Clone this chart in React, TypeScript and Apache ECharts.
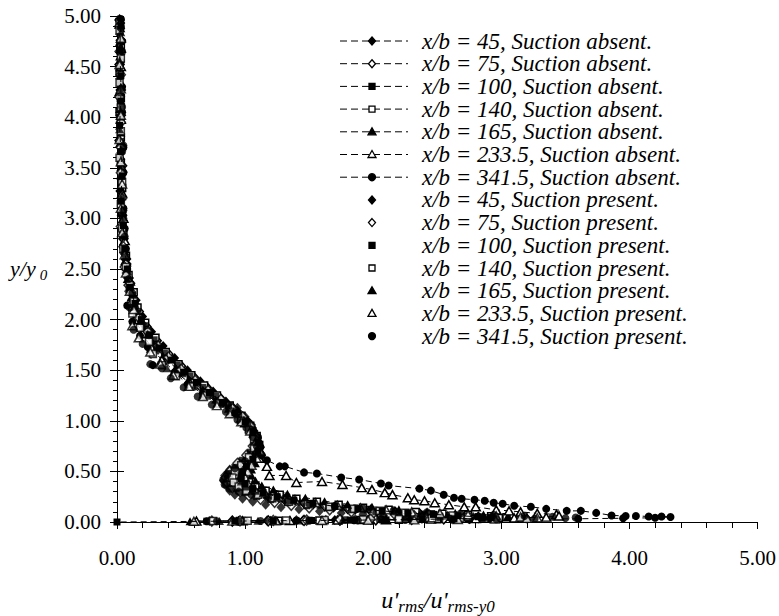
import { useEffect, useRef } from 'react';
import * as echarts from 'echarts';

type Pt = [number, number];

const LEGEND_LABELS = [
  'x/b = 45, Suction absent.',
  'x/b = 75, Suction absent.',
  'x/b = 100, Suction absent.',
  'x/b = 140, Suction absent.',
  'x/b = 165, Suction absent.',
  'x/b = 233.5, Suction absent.',
  'x/b = 341.5, Suction absent.',
  'x/b = 45, Suction present.',
  'x/b = 75, Suction present.',
  'x/b = 100, Suction present.',
  'x/b = 140, Suction present.',
  'x/b = 165, Suction present.',
  'x/b = 233.5, Suction present.',
  'x/b = 341.5, Suction present.',
];

const SYMBOLS = ['diamond', 'diamond', 'rect', 'rect', 'triangle', 'triangle', 'circle'];
const FILLED = [true, false, true, false, true, false, true];

const s45Absent: Pt[] = [
  [0.03, 4.93], [0.02, 4.71], [0.03, 4.47], [0.02, 4.22], [0.03, 3.98], [0.04, 3.72], [0.03, 3.47], [0.04, 3.22], [0.05, 2.98], [0.06, 2.75], [0.08, 2.55], [0.11, 2.36], [0.15, 2.19],
  [0.2, 2.03], [0.27, 1.88], [0.36, 1.74], [0.45, 1.62], [0.55, 1.5], [0.65, 1.39], [0.75, 1.29], [0.85, 1.19], [0.94, 1.1], [1.02, 1.0], [1.07, 0.9], [1.1, 0.8],
  [1.08, 0.71], [1.02, 0.63], [0.96, 0.55], [0.92, 0.48], [0.91, 0.42], [0.95, 0.36], [1.02, 0.31], [1.12, 0.27], [1.24, 0.23], [1.38, 0.2], [1.53, 0.17], [1.69, 0.14], [1.86, 0.12], [2.03, 0.1], [2.2, 0.085], [2.38, 0.07], [2.54, 0.058], [2.65, 0.048],
  [2.6, 0.04], [2.42, 0.034], [2.2, 0.029], [1.96, 0.024], [1.7, 0.02], [1.45, 0.016], [1.2, 0.013], [0.95, 0.01],
];

const s75Absent: Pt[] = [
  [0.02, 4.96], [0.03, 4.76], [0.02, 4.52], [0.03, 4.27], [0.03, 4.02], [0.02, 3.77], [0.04, 3.52], [0.03, 3.27], [0.04, 3.03], [0.05, 2.8], [0.07, 2.6], [0.09, 2.41], [0.12, 2.25],
  [0.17, 2.08], [0.23, 1.93], [0.31, 1.79], [0.4, 1.66], [0.5, 1.54], [0.6, 1.43], [0.7, 1.33], [0.8, 1.23], [0.9, 1.13], [0.98, 1.03], [1.05, 0.93], [1.09, 0.83],
  [1.09, 0.74], [1.05, 0.66], [0.99, 0.58], [0.95, 0.51], [0.93, 0.45], [0.95, 0.39], [1.0, 0.34], [1.08, 0.3], [1.18, 0.26], [1.31, 0.22], [1.46, 0.19], [1.62, 0.16], [1.8, 0.135], [1.98, 0.115], [2.17, 0.095], [2.36, 0.08], [2.55, 0.066], [2.72, 0.055], [2.82, 0.046],
  [2.75, 0.038], [2.55, 0.032], [2.3, 0.027], [2.02, 0.022], [1.74, 0.018], [1.46, 0.015], [1.18, 0.012], [0.9, 0.009],
];

const s100Absent: Pt[] = [
  [0.03, 4.9], [0.02, 4.66], [0.03, 4.41], [0.03, 4.16], [0.02, 3.92], [0.03, 3.66], [0.04, 3.42], [0.03, 3.17], [0.05, 2.93], [0.06, 2.7], [0.08, 2.5], [0.1, 2.32], [0.14, 2.16],
  [0.19, 2.0], [0.25, 1.85], [0.33, 1.72], [0.42, 1.6], [0.52, 1.48], [0.62, 1.38], [0.72, 1.28], [0.82, 1.18], [0.92, 1.08], [1.0, 0.99], [1.06, 0.89], [1.1, 0.79],
  [1.1, 0.7], [1.06, 0.62], [1.01, 0.55], [0.98, 0.49], [0.97, 0.43], [1.0, 0.38], [1.06, 0.33], [1.14, 0.29], [1.25, 0.25], [1.38, 0.215], [1.53, 0.185], [1.7, 0.155], [1.88, 0.13], [2.07, 0.11], [2.27, 0.09], [2.47, 0.075], [2.66, 0.062], [2.82, 0.052], [2.92, 0.044],
  [2.85, 0.037], [2.63, 0.031], [2.38, 0.026], [2.1, 0.021], [1.82, 0.018], [1.52, 0.015], [1.22, 0.012], [0.92, 0.009], [0, 0],
];

const s140Absent: Pt[] = [
  [0.02, 4.94], [0.03, 4.69], [0.02, 4.44], [0.03, 4.19], [0.02, 4.05], [0.03, 3.8], [0.03, 3.55], [0.04, 3.3], [0.04, 3.06], [0.05, 2.84], [0.07, 2.63], [0.09, 2.44], [0.13, 2.27], [0.16, 2.12],
  [0.22, 1.97], [0.3, 1.82], [0.38, 1.68], [0.48, 1.56], [0.58, 1.45], [0.68, 1.35], [0.78, 1.25], [0.88, 1.15], [0.97, 1.05], [1.04, 0.95], [1.09, 0.85],
  [1.11, 0.76], [1.09, 0.68], [1.05, 0.6], [1.02, 0.53], [1.01, 0.47], [1.03, 0.41], [1.08, 0.36], [1.16, 0.31], [1.27, 0.27], [1.4, 0.23], [1.56, 0.2], [1.73, 0.17], [1.92, 0.14], [2.12, 0.12], [2.33, 0.1], [2.54, 0.082], [2.74, 0.068], [2.92, 0.056], [3.04, 0.047],
  [2.98, 0.039], [2.76, 0.033], [2.5, 0.027], [2.2, 0.023], [1.9, 0.019], [1.58, 0.015], [1.26, 0.012], [0.96, 0.009],
];

const s165Absent: Pt[] = [
  [0.03, 4.88], [0.02, 4.6], [0.03, 4.35], [0.02, 4.08], [0.03, 3.85], [0.03, 3.62], [0.03, 3.3], [0.04, 3.12], [0.04, 2.95], [0.05, 2.77], [0.06, 2.58], [0.08, 2.4], [0.11, 2.22],
  [0.15, 2.06], [0.21, 1.91], [0.28, 1.77], [0.36, 1.64], [0.46, 1.52], [0.56, 1.41], [0.67, 1.31], [0.77, 1.21], [0.87, 1.12], [0.96, 1.02], [1.03, 0.92], [1.08, 0.82],
  [1.11, 0.73], [1.11, 0.65], [1.08, 0.58], [1.05, 0.52], [1.05, 0.46], [1.08, 0.41], [1.13, 0.36], [1.22, 0.32], [1.33, 0.28], [1.47, 0.24], [1.62, 0.205], [1.8, 0.175], [1.99, 0.15], [2.2, 0.125], [2.42, 0.105], [2.64, 0.088], [2.86, 0.073], [3.05, 0.06], [3.2, 0.05],
  [3.15, 0.041], [2.92, 0.034], [2.64, 0.028], [2.32, 0.024], [1.98, 0.02], [1.62, 0.017], [1.25, 0.014], [0.9, 0.011], [0.57, 0.008],
];

const s233Absent: Pt[] = [
  [0.02, 4.92], [0.03, 4.68], [0.03, 4.5], [0.02, 4.25], [0.03, 3.98], [0.03, 3.75], [0.04, 3.5], [0.04, 3.25], [0.05, 3.0], [0.06, 2.78], [0.07, 2.57], [0.1, 2.38], [0.13, 2.2],
  [0.14, 2.0], [0.2, 1.86], [0.27, 1.72], [0.35, 1.6], [0.45, 1.49], [0.57, 1.37], [0.68, 1.27], [0.79, 1.18], [0.9, 1.08], [1.0, 0.98], [1.07, 0.88], [1.11, 0.78], [1.12, 0.7],
  [1.11, 0.63], [1.17, 0.55], [1.19, 0.46], [1.32, 0.46], [1.4, 0.39], [1.6, 0.4], [1.76, 0.37], [1.91, 0.34], [1.99, 0.32], [2.09, 0.29], [2.15, 0.27], [2.27, 0.24], [2.32, 0.22], [2.4, 0.21], [2.48, 0.19], [2.59, 0.17], [2.71, 0.15], [2.8, 0.15], [2.96, 0.12], [3.06, 0.11], [3.15, 0.1], [3.28, 0.085], [3.43, 0.075], [3.45, 0.06],
  [3.35, 0.048], [3.1, 0.04], [2.8, 0.033], [2.45, 0.028], [2.1, 0.023], [1.72, 0.019], [1.35, 0.015], [0.98, 0.012], [0.62, 0.009],
];

const s341Absent: Pt[] = [
  [0.03, 4.97], [0.04, 4.75], [0.03, 4.55], [0.04, 4.3], [0.04, 4.05], [0.05, 3.7], [0.05, 3.45], [0.05, 3.1], [0.06, 2.9], [0.07, 2.7], [0.08, 2.5], [0.1, 2.3], [0.08, 2.14],
  [0.12, 1.98], [0.18, 1.84], [0.24, 1.73], [0.28, 1.55], [0.45, 1.48], [0.55, 1.36], [0.67, 1.27], [0.78, 1.19], [0.88, 1.12], [0.97, 1.04], [1.05, 0.94], [1.1, 0.84], [1.12, 0.74],
  [1.13, 0.66], [1.17, 0.61], [1.27, 0.55], [1.31, 0.55], [1.46, 0.49], [1.56, 0.48], [1.75, 0.44], [1.89, 0.42], [2.06, 0.38], [2.12, 0.36], [2.36, 0.33], [2.45, 0.31], [2.55, 0.27], [2.63, 0.24], [2.69, 0.23], [2.79, 0.22], [2.87, 0.21], [2.94, 0.19], [3.01, 0.18], [3.1, 0.16], [3.23, 0.15], [3.35, 0.13], [3.51, 0.11], [3.62, 0.11], [3.74, 0.09], [3.86, 0.065], [3.97, 0.06], [4.05, 0.06], [4.15, 0.055], [4.25, 0.055], [4.32, 0.05],
  [4.2, 0.042], [3.95, 0.037], [3.6, 0.032], [3.2, 0.028], [2.75, 0.024], [2.3, 0.02], [1.85, 0.017], [1.4, 0.014], [1.0, 0.011], [0.7, 0.008],
];

const s45Present: Pt[] = [
  [0.02, 4.82], [0.03, 4.62], [0.02, 4.38], [0.03, 4.12], [0.02, 3.88], [0.03, 3.65], [0.03, 3.4], [0.04, 3.08], [0.04, 2.88], [0.05, 2.66], [0.07, 2.46], [0.09, 2.28], [0.14, 2.12],
  [0.2, 1.96], [0.25, 1.84], [0.32, 1.7], [0.4, 1.6], [0.5, 1.48], [0.6, 1.37], [0.7, 1.28], [0.8, 1.2], [0.88, 1.14], [0.94, 1.13], [1.0, 1.04], [1.05, 0.96], [1.08, 0.86], [1.07, 0.76],
  [1.02, 0.67], [0.95, 0.59], [0.88, 0.52], [0.84, 0.46], [0.83, 0.41], [0.85, 0.36], [0.88, 0.31], [0.92, 0.27], [0.98, 0.23], [1.06, 0.2], [1.16, 0.17], [1.28, 0.145], [1.42, 0.125], [1.58, 0.105], [1.75, 0.09], [1.92, 0.076], [2.08, 0.064], [2.2, 0.054], [2.28, 0.046],
  [2.22, 0.039], [2.06, 0.033], [1.86, 0.028], [1.63, 0.023], [1.4, 0.019], [1.17, 0.015], [0.95, 0.012], [0.72, 0.009],
];

const s75Present: Pt[] = [
  [0.02, 4.9], [0.02, 4.65], [0.03, 4.42], [0.02, 4.2], [0.03, 3.95], [0.03, 3.7], [0.03, 3.45], [0.04, 3.2], [0.03, 2.92], [0.05, 2.72], [0.06, 2.52], [0.09, 2.34], [0.12, 2.16],
  [0.17, 2.02], [0.24, 1.88], [0.32, 1.74], [0.4, 1.63], [0.5, 1.51], [0.61, 1.4], [0.71, 1.3], [0.81, 1.21], [0.9, 1.12], [0.98, 1.04], [1.04, 0.95], [1.07, 0.85], [1.06, 0.75],
  [1.01, 0.66], [0.94, 0.58], [0.88, 0.5], [0.85, 0.44], [0.86, 0.39], [0.9, 0.34], [0.96, 0.3], [1.03, 0.26], [1.12, 0.225], [1.23, 0.195], [1.36, 0.165], [1.5, 0.14], [1.66, 0.12], [1.83, 0.1], [2.0, 0.085], [2.17, 0.072], [2.32, 0.06], [2.42, 0.05],
  [2.38, 0.041], [2.2, 0.034], [1.98, 0.028], [1.74, 0.023], [1.48, 0.019], [1.22, 0.015], [0.96, 0.012], [0.74, 0.009],
];

const s100Present: Pt[] = [
  [0.03, 4.95], [0.02, 4.72], [0.02, 4.48], [0.03, 4.24], [0.02, 4.0], [0.03, 3.76], [0.03, 3.52], [0.03, 3.28], [0.04, 3.05], [0.05, 2.82], [0.06, 2.62], [0.08, 2.44], [0.12, 2.24],
  [0.16, 2.08], [0.22, 1.94], [0.29, 1.8], [0.37, 1.67], [0.47, 1.55], [0.57, 1.44], [0.67, 1.33], [0.77, 1.24], [0.87, 1.15], [0.95, 1.06], [1.02, 0.97], [1.06, 0.87], [1.07, 0.78],
  [1.04, 0.69], [0.98, 0.61], [0.92, 0.54], [0.87, 0.48], [0.86, 0.43], [0.88, 0.38], [0.93, 0.33], [1.0, 0.29], [1.09, 0.25], [1.2, 0.22], [1.33, 0.19], [1.48, 0.16], [1.65, 0.14], [1.83, 0.12], [2.02, 0.1], [2.2, 0.083], [2.38, 0.069], [2.52, 0.057], [2.6, 0.047],
  [2.52, 0.039], [2.3, 0.032], [2.05, 0.027], [1.78, 0.022], [1.5, 0.018], [1.22, 0.014], [0.95, 0.011], [0.7, 0.008],
];

const s140Present: Pt[] = [
  [0.02, 4.86], [0.03, 4.58], [0.02, 4.34], [0.03, 4.1], [0.03, 3.86], [0.02, 3.6], [0.04, 3.36], [0.03, 3.14], [0.04, 2.9], [0.05, 2.7], [0.07, 2.52], [0.1, 2.34], [0.13, 2.18], [0.12, 2.06],
  [0.18, 1.92], [0.25, 1.78], [0.28, 1.66], [0.35, 1.55], [0.46, 1.44], [0.58, 1.34], [0.7, 1.25], [0.8, 1.17], [0.9, 1.09], [0.97, 1.0], [1.03, 0.91], [1.07, 0.82],
  [1.07, 0.73], [1.03, 0.64], [0.97, 0.56], [0.92, 0.5], [0.9, 0.44], [0.91, 0.39], [0.95, 0.35], [1.01, 0.31], [1.1, 0.27], [1.21, 0.235], [1.34, 0.2], [1.49, 0.175], [1.66, 0.15], [1.85, 0.13], [2.05, 0.11], [2.25, 0.092], [2.45, 0.076], [2.62, 0.063], [2.74, 0.052],
  [2.68, 0.043], [2.46, 0.036], [2.2, 0.03], [1.92, 0.025], [1.62, 0.02], [1.32, 0.016], [1.02, 0.012], [0.75, 0.009],
];

const s165Present: Pt[] = [
  [0.03, 4.84], [0.02, 4.56], [0.03, 4.3], [0.03, 4.06], [0.02, 3.88], [0.03, 3.68], [0.03, 3.42], [0.04, 3.22], [0.04, 3.05], [0.05, 2.85], [0.06, 2.68], [0.08, 2.48], [0.1, 2.3], [0.14, 2.14],
  [0.18, 1.99], [0.24, 1.86], [0.31, 1.74], [0.39, 1.52], [0.51, 1.47], [0.61, 1.35], [0.72, 1.26], [0.82, 1.17], [0.91, 1.09], [0.99, 1.01], [1.05, 0.92], [1.09, 0.83],
  [1.1, 0.74], [1.08, 0.66], [1.03, 0.58], [0.98, 0.52], [0.96, 0.46], [0.97, 0.4], [1.01, 0.35], [1.08, 0.31], [1.17, 0.27], [1.29, 0.23], [1.43, 0.2], [1.59, 0.17], [1.77, 0.145], [1.96, 0.125], [2.16, 0.105], [2.37, 0.088], [2.58, 0.074], [2.78, 0.061], [2.92, 0.051],
  [2.86, 0.042], [2.64, 0.035], [2.38, 0.029], [2.08, 0.024], [1.76, 0.02], [1.42, 0.016], [1.1, 0.013], [0.8, 0.01], [0.6, 0.008],
];

const s233Present: Pt[] = [
  [0.03, 4.78], [0.02, 4.52], [0.03, 4.28], [0.03, 4.02], [0.02, 3.78], [0.03, 3.56], [0.04, 3.34], [0.03, 3.1], [0.04, 2.86], [0.06, 2.64], [0.07, 2.46], [0.1, 2.28], [0.13, 2.1],
  [0.12, 1.94], [0.17, 1.82], [0.26, 1.68], [0.34, 1.56], [0.44, 1.45], [0.56, 1.34], [0.67, 1.24], [0.78, 1.15], [0.88, 1.07], [0.97, 0.99], [1.04, 0.9], [1.09, 0.8], [1.11, 0.71],
  [1.09, 0.63], [1.05, 0.56], [1.02, 0.5], [1.0, 0.44], [1.02, 0.38], [1.07, 0.33], [1.15, 0.29], [1.26, 0.25], [1.39, 0.22], [1.55, 0.19], [1.72, 0.165], [1.9, 0.14], [2.1, 0.12], [2.3, 0.1], [2.52, 0.085], [2.74, 0.072], [2.96, 0.06], [3.15, 0.05], [3.28, 0.042],
  [3.2, 0.036], [2.95, 0.03], [2.66, 0.025], [2.32, 0.021], [1.96, 0.018], [1.6, 0.015], [1.24, 0.012], [0.9, 0.009], [0.6, 0.007],
];

const s341Present: Pt[] = [
  [0.03, 4.88], [0.04, 4.65], [0.03, 4.28], [0.04, 4.1], [0.05, 3.72], [0.04, 3.66], [0.05, 3.08], [0.05, 3.0], [0.06, 2.82], [0.07, 2.62], [0.09, 2.4], [0.12, 2.26], [0.1, 2.12],
  [0.13, 1.9], [0.2, 1.76], [0.26, 1.56], [0.35, 1.52], [0.42, 1.42], [0.52, 1.33], [0.63, 1.24], [0.74, 1.16], [0.85, 1.09], [0.94, 1.01], [1.01, 0.93], [1.06, 0.84], [1.09, 0.75],
  [1.08, 0.67], [1.0, 0.6], [0.92, 0.53], [0.86, 0.47], [0.83, 0.42], [0.84, 0.37], [0.88, 0.33], [0.95, 0.3], [1.05, 0.27], [1.18, 0.24], [1.33, 0.21], [1.5, 0.18], [1.7, 0.155], [1.92, 0.135], [2.16, 0.115], [2.42, 0.097], [2.68, 0.082], [2.94, 0.07], [3.18, 0.06], [3.4, 0.052], [3.58, 0.045],
  [3.5, 0.038], [3.26, 0.032], [2.96, 0.027], [2.62, 0.023], [2.25, 0.019], [1.88, 0.016], [1.5, 0.013], [1.12, 0.01], [0.78, 0.008],
];

const SERIES_DATA: Pt[][] = [
  s45Absent, s75Absent, s100Absent, s140Absent, s165Absent, s233Absent, s341Absent,
  s45Present, s75Present, s100Present, s140Present, s165Present, s233Present, s341Present,
];

const FONT = 'Liberation Serif';
const SYMBOL_SIZE: Record<string, number | number[]> = { diamond: [9, 10], rect: 7, triangle: [9, 8], circle: 8 };

function legendSymbol(kind: string, filled: boolean, cx: number, cy: number): any {
  const style = { fill: filled ? '#000' : '#fff', stroke: '#000', lineWidth: 1.3 };
  if (kind === 'diamond') {
    return { type: 'polygon', shape: { points: [[cx, cy - 4], [cx + 3.5, cy], [cx, cy + 4], [cx - 3.5, cy]] }, style };
  }
  if (kind === 'rect') {
    return { type: 'rect', shape: { x: cx - 3, y: cy - 3, width: 6, height: 6 }, style };
  }
  if (kind === 'triangle') {
    return { type: 'polygon', shape: { points: [[cx, cy - 4], [cx + 4, cy + 3], [cx - 4, cy + 3]] }, style };
  }
  return { type: 'circle', shape: { cx, cy, r: 3.5 }, style };
}

export default function App() {
  const ref = useRef<HTMLDivElement>(null);
  useEffect(() => {
    if (!ref.current) return;
    const chart = echarts.init(ref.current, null, { renderer: 'svg' });

    const series: any[] = SERIES_DATA.map((data, i) => {
      const k = i % 7;
      const sym = SYMBOLS[k];
      const filled = FILLED[k];
      const absent = i < 7;
      const base: any = {
        name: LEGEND_LABELS[i],
        data,
        symbol: sym,
        symbolSize: SYMBOL_SIZE[sym],
        itemStyle: { color: filled ? '#000' : '#fff', borderColor: '#000', borderWidth: filled ? 0 : 1.5 },
        emphasis: { disabled: true },
        silent: true,
        z: 3,
      };
      if (absent) {
        return {
          ...base,
          type: 'line',
          showSymbol: true,
          lineStyle: { color: '#000', width: 1, type: [6, 4] },
          z: i === 2 ? 5 : 3,
        };
      }
      return { ...base, type: 'scatter' };
    });

    const graphic: any[] = [];
    const rowY0 = 41;
    const rowStep = 22.7;
    LEGEND_LABELS.forEach((label, i) => {
      const y = rowY0 + rowStep * i;
      const k = i % 7;
      if (i < 7) {
        graphic.push({
          type: 'line',
          shape: { x1: 340, y1: y, x2: 408, y2: y },
          style: { stroke: '#000', lineWidth: 1, lineDash: [7, 4] },
        });
      }
      graphic.push(legendSymbol(SYMBOLS[k], FILLED[k], 372, y));
      graphic.push({
        type: 'text',
        x: 422,
        y,
        style: {
          text: label,
          fill: '#000',
          fontFamily: FONT,
          fontStyle: 'italic',
          fontSize: 23,
          verticalAlign: 'middle',
          align: 'left',
        },
      });
    });

    graphic.push({
      type: 'text',
      x: 10,
      y: 270,
      style: {
        text: '{a|y/y}{b|0}',
        verticalAlign: 'middle',
        align: 'left',
        rich: {
          a: { fontFamily: FONT, fontStyle: 'italic', fontSize: 22, color: '#000', verticalAlign: 'bottom', padding: [0, 0, 3, 0] },
          b: { fontFamily: FONT, fontStyle: 'italic', fontSize: 15, color: '#000', verticalAlign: 'bottom', padding: [0, 0, 0, 4] },
        },
      },
    });

    graphic.push({
      type: 'text',
      x: 438,
      y: 601,
      style: {
        text: "{a|u'}{b|rms}{a|/u'}{b|rms-y0}",
        verticalAlign: 'middle',
        align: 'center',
        rich: {
          a: { fontFamily: FONT, fontStyle: 'italic', fontSize: 24, color: '#000', verticalAlign: 'bottom', padding: [0, 0, 3, 0] },
          b: { fontFamily: FONT, fontStyle: 'italic', fontSize: 17, color: '#000', verticalAlign: 'bottom' },
        },
      },
    });

    const labelStyle = { color: '#000', fontFamily: FONT, fontSize: 21 };

    chart.setOption({
      animation: false,
      backgroundColor: '#fff',
      grid: { left: 117, right: 20, top: 16, bottom: 94, containLabel: false },
      xAxis: [
        {
          type: 'value', min: 0, max: 5, interval: 1,
          axisLine: { show: true, lineStyle: { color: '#000', width: 1 } },
          axisTick: { show: true, length: 7, lineStyle: { color: '#000' } },
          minorTick: { show: true, splitNumber: 5, length: 6, lineStyle: { color: '#000' } },
          splitLine: { show: false },
          axisLabel: { ...labelStyle, margin: 25, formatter: (v: number) => v.toFixed(2) },
        },
      ],
      yAxis: [
        {
          type: 'value', min: 0, max: 5, interval: 0.5,
          axisLine: { show: true, lineStyle: { color: '#000', width: 1 } },
          axisTick: { show: true, length: 7, lineStyle: { color: '#000' } },
          minorTick: { show: true, splitNumber: 5, length: 4, lineStyle: { color: '#000' } },
          splitLine: { show: false },
          axisLabel: { ...labelStyle, margin: 16, formatter: (v: number) => v.toFixed(2) },
        },
        {
          type: 'value', min: 0, max: 5, interval: 0.5, position: 'left',
          axisLine: { show: false },
          axisTick: { show: true, inside: true, length: 7, lineStyle: { color: '#000' } },
          axisLabel: { show: false },
          splitLine: { show: false },
        },
      ],
      series,
      graphic,
    });

    return () => chart.dispose();
  }, []);

  return <div ref={ref} style={{ width: 779, height: 616, position: 'absolute', left: 0, top: 0 }} />;
}
